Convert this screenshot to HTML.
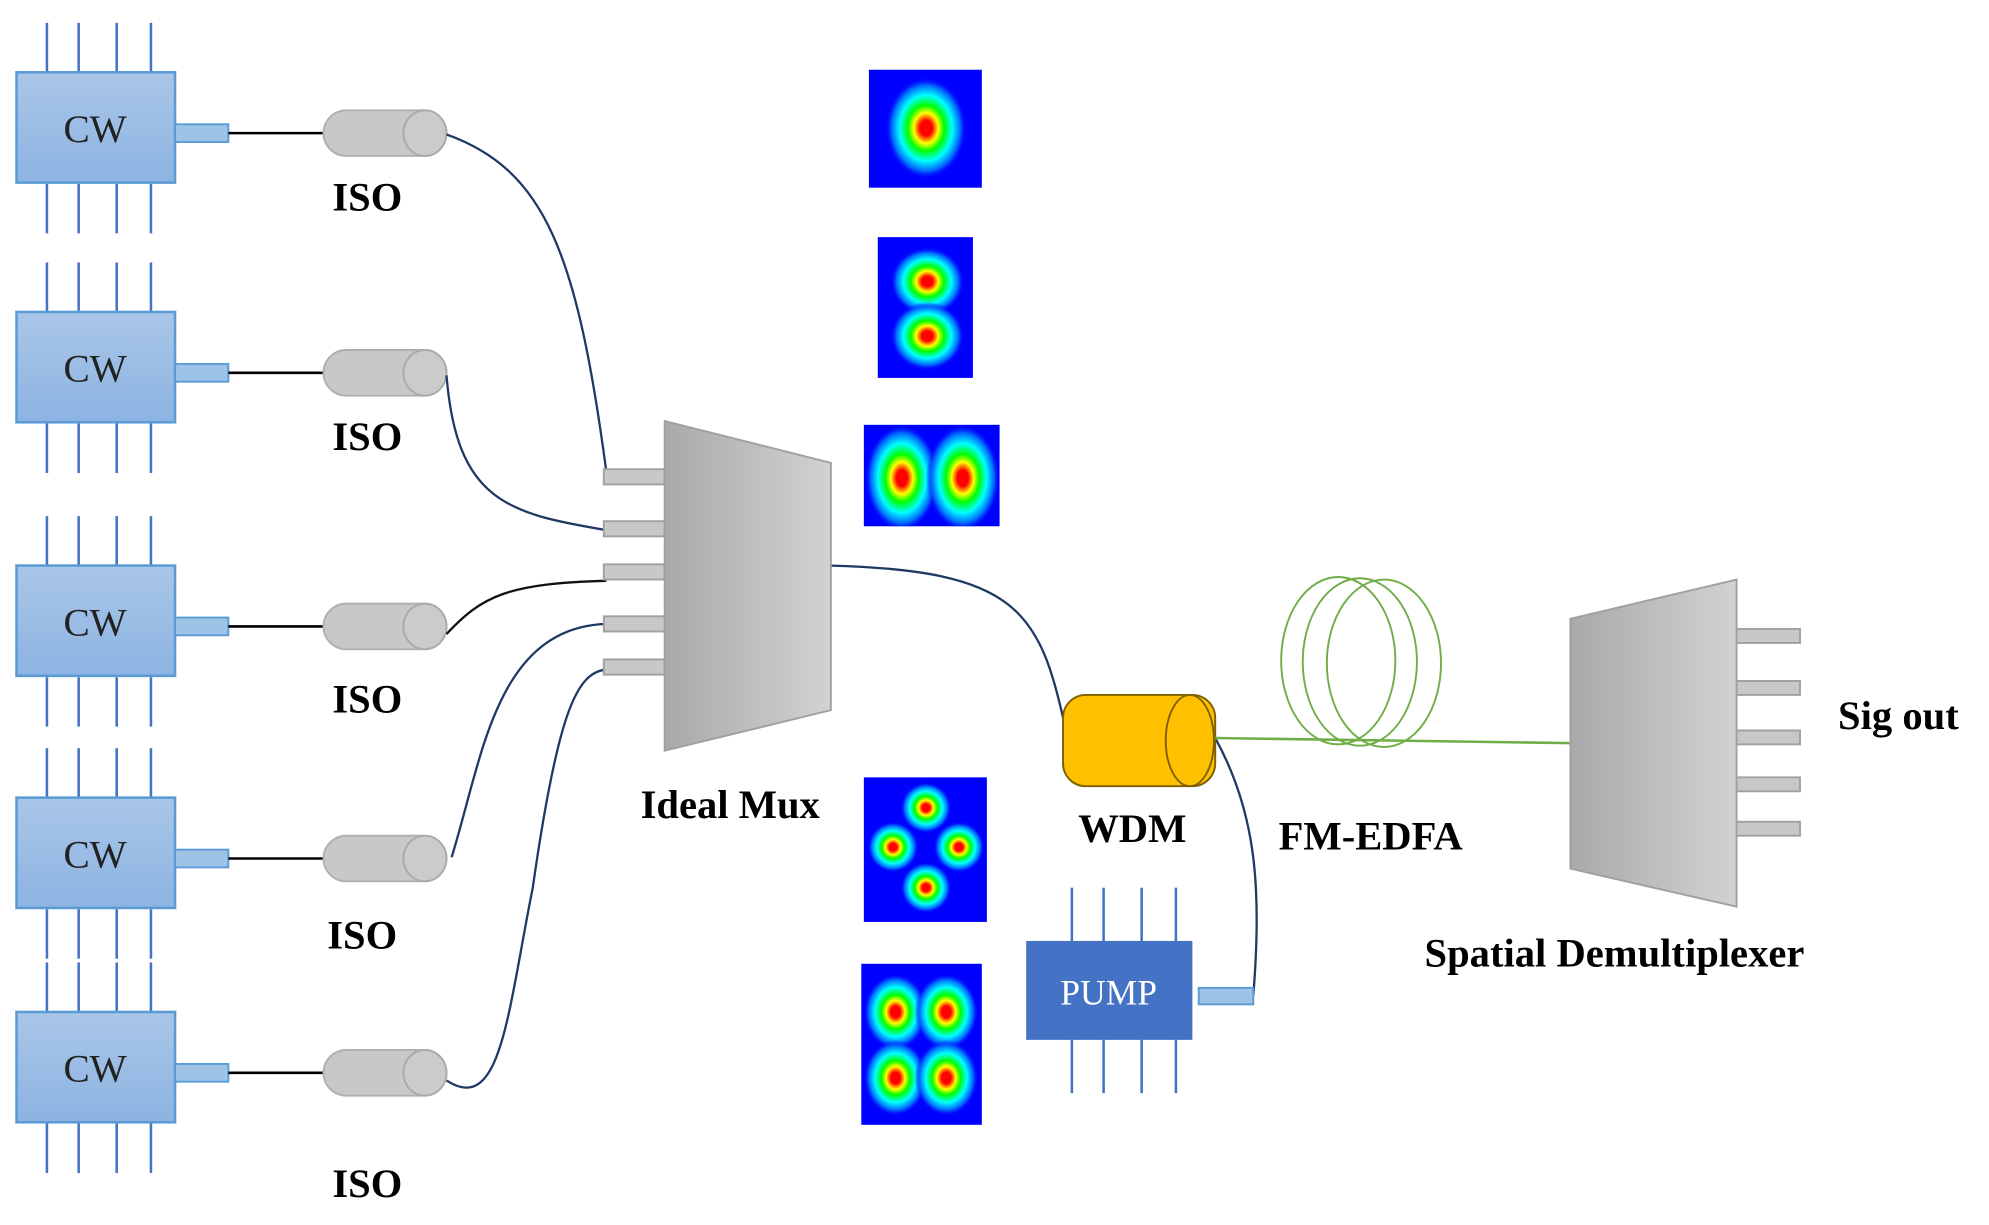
<!DOCTYPE html>
<html><head><meta charset="utf-8"><style>html,body{margin:0;padding:0;background:#fff}svg{display:block}text{font-family:"Liberation Serif",serif}</style></head>
<body>
<svg width="1989" height="1225" viewBox="0 0 1568 966" preserveAspectRatio="none" xmlns="http://www.w3.org/2000/svg">
<defs>
<linearGradient id="cw" x1="0" y1="0" x2="0" y2="1"><stop offset="0" stop-color="#aac6e8"/><stop offset="1" stop-color="#8cb3e2"/></linearGradient>
<linearGradient id="mux" x1="0" y1="0" x2="1" y2="0"><stop offset="0" stop-color="#a9a9a9"/><stop offset="1" stop-color="#d2d2d2"/></linearGradient>
<radialGradient id="jet"><stop offset="0" stop-color="#f00"/><stop offset="0.15" stop-color="#f00"/><stop offset="0.3" stop-color="#ff0"/><stop offset="0.45" stop-color="#0f0"/><stop offset="0.65" stop-color="#0ff"/><stop offset="0.85" stop-color="#06f"/><stop offset="1" stop-color="#00f" stop-opacity="0"/></radialGradient>
<clipPath id="c3"><rect x="681" y="335" width="107" height="80"/></clipPath>
<clipPath id="c2"><rect x="692" y="187" width="75" height="111"/></clipPath>
<g id="pins" stroke="#4472c4" stroke-width="2"><line x1="37" y1="-39" x2="37" y2="0"/><line x1="62" y1="-39" x2="62" y2="0"/><line x1="92" y1="-39" x2="92" y2="0"/><line x1="119" y1="-39" x2="119" y2="0"/><line x1="37" y1="88" x2="37" y2="127"/><line x1="62" y1="88" x2="62" y2="127"/><line x1="92" y1="88" x2="92" y2="127"/><line x1="119" y1="88" x2="119" y2="127"/></g>
<g id="cwu"><use href="#pins"/><rect x="13" y="0" width="125" height="87" fill="url(#cw)" stroke="#5b9bd5" stroke-width="2"/><text x="75" y="55" font-size="31" text-anchor="middle" fill="#222">CW</text><rect x="138" y="41" width="42" height="14" fill="#9dc3e6" stroke="#5b9bd5" stroke-width="1.5"/><line x1="180" y1="48" x2="255" y2="48" stroke="#000" stroke-width="2"/><rect x="255" y="30" width="97" height="36" rx="18" fill="#c8c8c8" stroke="#b0b0b0" stroke-width="1.5"/><ellipse cx="335" cy="48" rx="17" ry="18" fill="#cbcbcb" stroke="#aaa" stroke-width="1.5"/></g>
</defs>

<use href="#cwu" x="0" y="57"/>
<use href="#cwu" x="0" y="246"/>
<use href="#cwu" x="0" y="446"/>
<use href="#cwu" x="0" y="629"/>
<use href="#cwu" x="0" y="798"/>

<g font-size="32" font-weight="bold" fill="#000">
<text x="262" y="166">ISO</text>
<text x="262" y="355">ISO</text>
<text x="262" y="562">ISO</text>
<text x="258" y="748">ISO</text>
<text x="262" y="944">ISO</text>
<text x="505" y="645">Ideal Mux</text>
<text x="850" y="664">WDM</text>
<text x="1008" y="670">FM-EDFA</text>
<text x="1449" y="575">Sig out</text>
<text x="1123" y="762">Spatial Demultiplexer</text>
</g>

<g fill="none" stroke="#1f3864" stroke-width="1.8">
<path d="M352 106 C430 134 455 200 478 372"/>
<path d="M352 296 C360 395 400 405 478 418"/>
<path d="M356 676 C380 600 390 495 478 492" />
<path d="M352 852 C395 880 400 800 420 700 C440 560 455 530 478 528"/>
<path d="M655 446 C800 450 820 480 840 575"/>
<path d="M958 582 C990 640 995 700 988 785"/>
</g>
<path d="M352 500 C380 470 400 460 478 458" fill="none" stroke="#111" stroke-width="1.8"/>

<g fill="#c8c8c8" stroke="#a0a0a0" stroke-width="1.5">
<rect x="476" y="370" width="48" height="12"/><rect x="476" y="411" width="48" height="12"/><rect x="476" y="445" width="48" height="12"/><rect x="476" y="486" width="48" height="12"/><rect x="476" y="520" width="48" height="12"/>
</g>
<polygon points="524,332 655,365 655,560 524,592" fill="url(#mux)" stroke="#a0a0a0" stroke-width="1.5"/>

<rect x="685" y="55" width="89" height="93" fill="#00f"/>
<ellipse cx="730" cy="101" rx="32" ry="40" fill="url(#jet)"/>
<rect x="692" y="187" width="75" height="111" fill="#00f"/>
<g clip-path="url(#c2)"><ellipse cx="731" cy="222" rx="29" ry="27" fill="url(#jet)"/><ellipse cx="731" cy="265" rx="29" ry="27" fill="url(#jet)"/></g>
<rect x="681" y="335" width="107" height="80" fill="#00f"/>
<g clip-path="url(#c3)"><ellipse cx="711" cy="377" rx="29" ry="42" fill="url(#jet)"/><ellipse cx="759" cy="377" rx="29" ry="42" fill="url(#jet)"/></g>
<rect x="681" y="613" width="97" height="114" fill="#00f"/>
<ellipse cx="730" cy="637" rx="20" ry="20" fill="url(#jet)"/><ellipse cx="730" cy="700" rx="20" ry="20" fill="url(#jet)"/><ellipse cx="704" cy="668" rx="20" ry="20" fill="url(#jet)"/><ellipse cx="756" cy="668" rx="20" ry="20" fill="url(#jet)"/>
<rect x="679" y="760" width="95" height="127" fill="#00f"/>
<ellipse cx="706" cy="798" rx="25" ry="30" fill="url(#jet)"/><ellipse cx="746" cy="798" rx="25" ry="30" fill="url(#jet)"/><ellipse cx="706" cy="850" rx="25" ry="30" fill="url(#jet)"/><ellipse cx="746" cy="850" rx="25" ry="30" fill="url(#jet)"/>

<rect x="838" y="548" width="120" height="72" rx="18" fill="#ffc000" stroke="#7f6000" stroke-width="1.5"/>
<ellipse cx="938" cy="584" rx="19" ry="36" fill="#ffc000" stroke="#7f6000" stroke-width="1.5"/>

<g fill="none" stroke="#70ad47" stroke-width="1.5">
<ellipse cx="1055" cy="521" rx="45" ry="66"/><ellipse cx="1072" cy="522" rx="45" ry="66"/><ellipse cx="1091" cy="523" rx="45" ry="66"/>
</g>
<line x1="958" y1="582" x2="1238" y2="586" stroke="#70ad47" stroke-width="2"/>

<g fill="#c8c8c8" stroke="#a0a0a0" stroke-width="1.5">
<rect x="1369" y="496" width="50" height="11"/><rect x="1369" y="537" width="50" height="11"/><rect x="1369" y="576" width="50" height="11"/><rect x="1369" y="613" width="50" height="11"/><rect x="1369" y="648" width="50" height="11"/>
</g>
<polygon points="1238,488 1369,457 1369,715 1238,685" fill="url(#mux)" stroke="#a0a0a0" stroke-width="1.5"/>

<g stroke="#4472c4" stroke-width="2">
<line x1="845" y1="700" x2="845" y2="742"/><line x1="870" y1="700" x2="870" y2="742"/><line x1="900" y1="700" x2="900" y2="742"/><line x1="927" y1="700" x2="927" y2="742"/>
<line x1="845" y1="820" x2="845" y2="862"/><line x1="870" y1="820" x2="870" y2="862"/><line x1="900" y1="820" x2="900" y2="862"/><line x1="927" y1="820" x2="927" y2="862"/>
</g>
<rect x="809" y="742" width="131" height="78" fill="#4472c4"/>
<text x="874" y="792" font-size="28" text-anchor="middle" fill="#fff">PUMP</text>
<rect x="945" y="779" width="43" height="13" fill="#9dc3e6" stroke="#5b9bd5" stroke-width="1.5"/>
</svg>
</body></html>
